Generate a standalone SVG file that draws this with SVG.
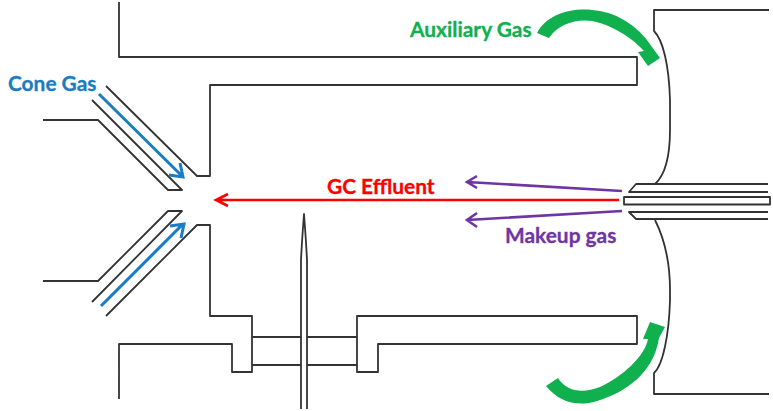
<svg xmlns="http://www.w3.org/2000/svg" width="773" height="411" viewBox="0 0 773 411">
<style>
.w{fill:none;stroke:#333;stroke-width:1.8;stroke-linejoin:round;stroke-linecap:butt}
.b{fill:none;stroke:#1a7cc2;stroke-width:3}
.p{fill:none;stroke:#6f35a3;stroke-width:2.6}
.r{fill:none;stroke:#f00;stroke-width:2.6}
.t{font-family:Lato,"Open Sans",sans-serif;font-weight:700;font-size:20.900px;stroke-width:.3px}
</style>
<rect width="773" height="411" fill="#fff"/>
<g id="housing">
<path class="w" d="M119,2V57H637V85H210V176H197L106,86"/>
<path class="w" d="M119,399V344H232V372H252V316H210V225H197L106,316"/>
<path class="w" d="M252,337H301M252,365H301M307,337H357M307,365H357"/>
<path class="w" d="M357,372V316H637V344H378V372Z"/>
</g>
<g id="cone">
<path class="w" d="M43,120H98L168,190H182L92,100"/>
<path class="w" d="M43,281H98L168,211H182L92,302"/>
</g>
<g id="needle">
<path class="w" d="M301,409V260Q302,240 304,214Q306,240 307,260V409"/>
</g>
<g id="source">
<path class="w" d="M769,10H654V31C663,40 669,65 670,100V130C670,155 665,175 655,184"/>
<path class="w" d="M769,394H654V373C663,365 669,335 670,300V290C670,265 665,240 655,220"/>
<path class="w" d="M768,184H636L629,192H768"/>
<path class="w" d="M768,219H636L629,212H768"/>
<rect class="w" x="624" y="197" width="146" height="7.500"/>
</g>
<g id="connectors">
<path class="b" d="M99,94L182,176M169,175L183,177L180,163"/>
<path class="b" d="M101,306L183,224M170,226L184,224L181,238"/>
<path class="r" d="M619,200H216M228,194L216,200L228,206"/>
<path class="p" d="M622,191L467,182M477,176L467,182L477,188"/>
<path class="p" d="M622,211L467,220M477,213L467,220L477,227"/>
<path fill="#10b04f" d="M537,33C547,13 575,6 600,11C623,15 642,31 652,47L660,58L648,66L638,52L644,51C632,38 616,28 600,23C582,17 560,22 549,38Z"/>
<path fill="#10b04f" d="M546,386C560,403 578,407 597,401C627,392 654,372 659,338L665,327L650,322L643,339L648,339C645,356 622,377 600,387C582,394 566,391 558,378Z"/>
</g>
<g id="labels">
<text class="t" x="8" y="91" fill="#1a7cc2" stroke="#1a7cc2">Cone Gas</text>
<text class="t" x="410" y="37" fill="#10b04f" stroke="#10b04f">Auxiliary Gas</text>
<text class="t" x="327" y="194" fill="#f00" stroke="#f00">GC Effluent</text>
<text class="t" x="505" y="243" fill="#6f35a3" stroke="#6f35a3">Makeup gas</text>
</g>
</svg>
